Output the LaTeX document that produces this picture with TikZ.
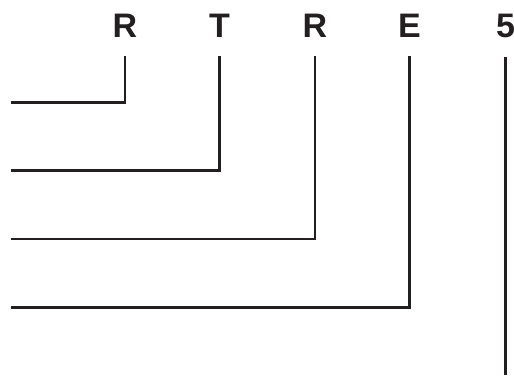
\documentclass[tikz,border=0pt]{standalone}
\usepackage{fontspec}
\setmainfont{Liberation Sans}
\usetikzlibrary{positioning}
\definecolor{inkblack}{HTML}{231F20}

\begin{document}
\begin{tikzpicture}[
  x=1pt, y=1pt,
  glyph/.style = {font=\fontsize{34}{34}\selectfont\bfseries, text=inkblack,
                  inner sep=0pt, anchor=base},
  lead/.style  = {draw=inkblack, line width=2.2pt},
]
\useasboundingbox (0,0) rectangle (514,376);

% ---------- letters along the top -------------------------------------------------
\node[glyph] (l1) at (125,338) {R};
\node[glyph] (l2) at (219.5,338) {T};
\node[glyph] (l3) at (315,338) {R};
\node[glyph] (l4) at (409.5,338) {E};
\node[glyph] (l5) at (505.5,338) {5};

% ---------- free ends on the left -------------------------------------------------
\coordinate (e1) at (11,273.5);
\coordinate (e2) at (11,205.5);
\coordinate (e3) at (11,137);
\coordinate (e4) at (11,68.5);
\coordinate (e5) at (505.5,1);

% ---------- leader lines ----------------------------------------------------------
\draw[lead] ([yshift=-18pt]l1.south) |- (e1);
\draw[lead] ([yshift=-18pt]l2.south) |- (e2);
\draw[lead] ([yshift=-18pt]l3.south) |- (e3);
\draw[lead] ([yshift=-18pt]l4.south) |- (e4);
\draw[lead] ([yshift=-18pt]l5.south) -- (e5);

\end{tikzpicture}
\end{document}
